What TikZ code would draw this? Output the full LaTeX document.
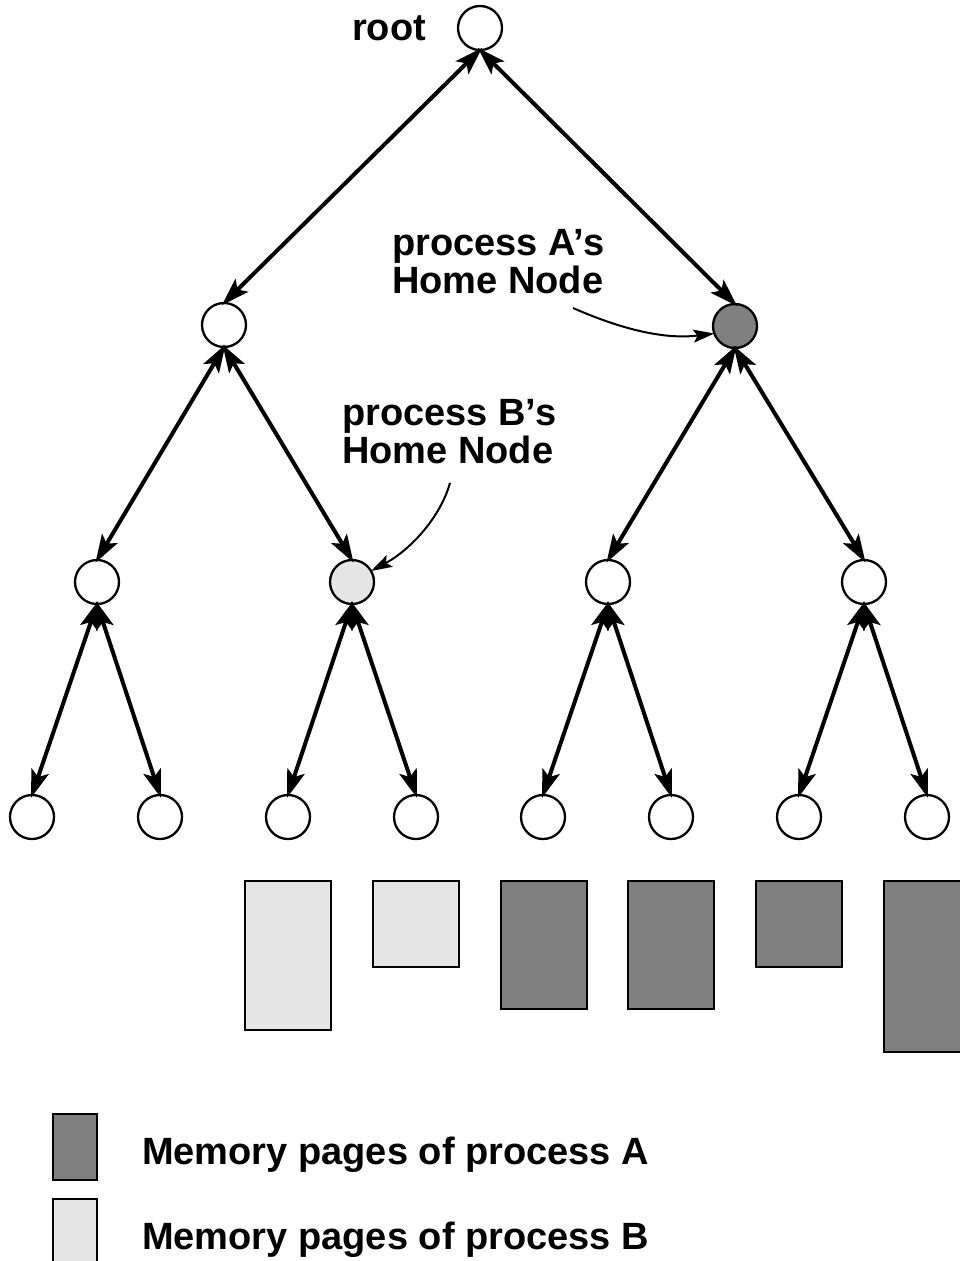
\documentclass[tikz,border=0pt]{standalone}
\usepackage{fontspec}
\setmainfont{Liberation Sans}
\usetikzlibrary{arrows.meta}
\definecolor{darkpg}{HTML}{808080}
\definecolor{lightpg}{HTML}{E5E5E5}
\begin{document}
\begin{tikzpicture}[x=1pt,y=-1pt,
  vtx/.style={circle, draw, line width=2.3pt, minimum size=44pt, inner sep=0pt, outer sep=0pt},
  link/.style={line width=4pt, {Stealth[length=28pt,width=18pt,inset=6pt]}-{Stealth[length=28pt,width=18pt,inset=6pt]}, shorten <=-3pt, shorten >=-3pt},
  ptr/.style={line width=2pt, -{Stealth[length=21pt,width=13pt,inset=4pt]}},
  pagebox/.style={draw, line width=2.3pt},
  lbl/.style={font=\fontsize{38}{38}\selectfont\bfseries, inner sep=0pt, anchor=base west, align=left}]
\useasboundingbox[fill=white] (0,0) rectangle (960,1261);
% tree nodes
\node[vtx] (root) at (480,28) {};
\node[vtx] (l1a) at (224,325) {};
\node[vtx, fill=darkpg] (l1b) at (735,326) {};
\node[vtx] (l2a) at (97,582) {};
\node[vtx, fill=lightpg] (l2b) at (352,582) {};
\node[vtx] (l2c) at (608,582) {};
\node[vtx] (l2d) at (864,582) {};
\foreach \n/\x in {a/32,b/160,c/288,d/416,e/543,f/671,g/799,h/927}
  \node[vtx] (l3\n) at (\x,817) {};
% links
\draw[link] (root.south) -- (l1a.north);
\draw[link] (root.south) -- (l1b.north);
\draw[link] (l1a.south) -- (l2a.north);
\draw[link] (l1a.south) -- (l2b.north);
\draw[link] (l1b.south) -- (l2c.north);
\draw[link] (l1b.south) -- (l2d.north);
\draw[link] (l2a.south) -- (l3a.north);
\draw[link] (l2a.south) -- (l3b.north);
\draw[link] (l2b.south) -- (l3c.north);
\draw[link] (l2b.south) -- (l3d.north);
\draw[link] (l2c.south) -- (l3e.north);
\draw[link] (l2c.south) -- (l3f.north);
\draw[link] (l2d.south) -- (l3g.north);
\draw[link] (l2d.south) -- (l3h.north);
% labels
\node[lbl] (rootlbl) at (352,40) {root};
\node[lbl] (alabel) at (392,293) {process A’s\\Home Node};
\node[lbl] (blabel) at (342,463) {process B’s\\Home Node};
\coordinate (astart) at (573,308);
\coordinate (bstart) at (450,483);
\draw[ptr] (astart) .. controls (630,333) and (670,339) .. (l1b.200);
\draw[ptr] (bstart) .. controls (440,518) and (410,550) .. (l2b.30);
% memory pages
\draw[pagebox, fill=lightpg] (245,881) rectangle (331,1030);
\draw[pagebox, fill=lightpg] (373,881) rectangle (459,967);
\draw[pagebox, fill=darkpg] (501,881) rectangle (587,1009);
\draw[pagebox, fill=darkpg] (628,881) rectangle (714,1009);
\draw[pagebox, fill=darkpg] (756,881) rectangle (842,967);
\draw[pagebox, fill=darkpg] (884,881) rectangle (975,1052);
% legend
\draw[pagebox, fill=darkpg] (53,1114) rectangle (97,1180);
\draw[pagebox, fill=lightpg] (53,1199) rectangle (97,1275);
\node[lbl] (legA) at (142,1164) {Memory pages of process A};
\node[lbl] (legB) at (142,1249) {Memory pages of process B};
\end{tikzpicture}
\end{document}
